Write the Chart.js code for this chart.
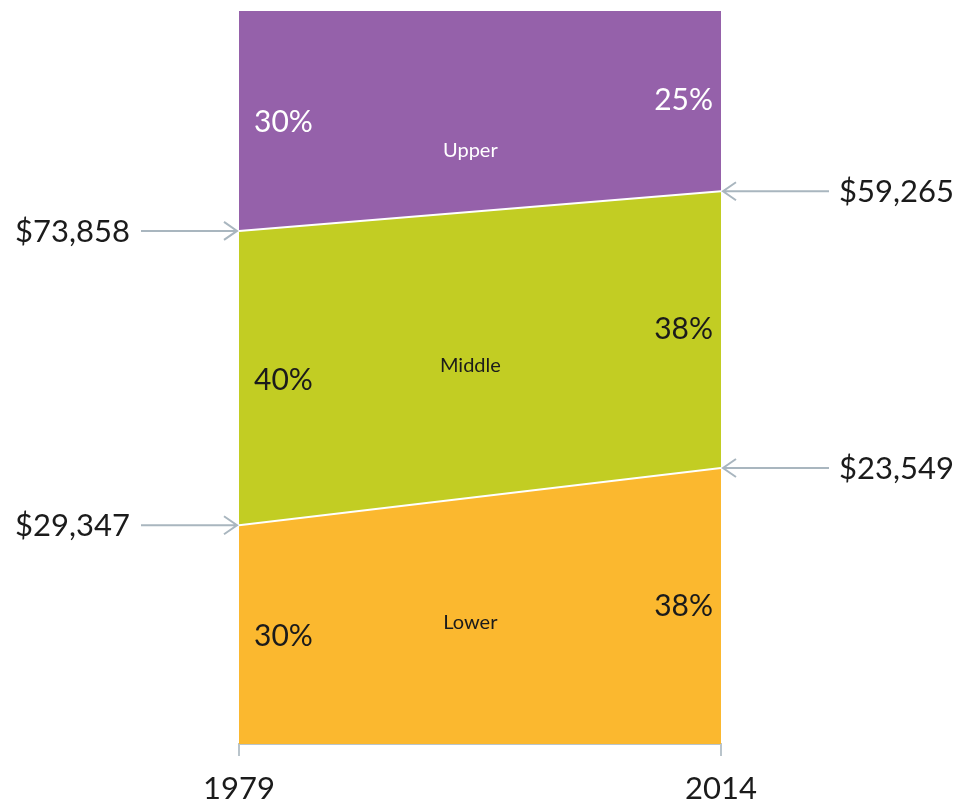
<!DOCTYPE html>
<html>
<head>
<meta charset="utf-8">
<script src="https://cdn.jsdelivr.net/npm/chart.js@4"></script>
<style>
  html, body { margin: 0; padding: 0; background: #fff; }
  #wrap { width: 966px; height: 806px; }
</style>
</head>
<body>
<div id="wrap"><canvas id="mycanvas"></canvas></div>
<script>
const years = [1979, 2014];
const lowerShare = [29.8, 37.6];
const middleShare = [40.1, 37.7];
const upperShare = [30.1, 24.7];
const seriesNames = ['Lower', 'Middle', 'Upper'];
const shareLabels = [['30%', '38%'], ['40%', '38%'], ['30%', '25%']];
const lowerBound = ['$29,347', '$23,549'];
const upperBound = ['$73,858', '$59,265'];

const FONT = 'Lato, "Open Sans", sans-serif';
const TEXT = '#1b1b1b';
const ARROW = '#a9b6bf';

// labels, percentages and arrows placed via the chart scales
const annotate = {
    id: 'annotate',
    afterDatasetsDraw(chart) {
        const ctx = chart.ctx;
        const x = chart.scales.x;
        const y = chart.scales.y;
        const shares = [lowerShare, middleShare, upperShare];

        ctx.save();
        ctx.textBaseline = 'middle';

        // percentages at each end of every band
        for (let s = 0; s < 3; s++) {
            for (let i = 0; i < 2; i++) {
                let base = 0;
                for (let k = 0; k < s; k++) base += shares[k][i];
                const mid = y.getPixelForValue(base + shares[s][i] / 2);
                ctx.font = '30px ' + FONT;
                ctx.fillStyle = s === 2 ? '#ffffff' : TEXT;
                if (i === 0) {
                    ctx.textAlign = 'left';
                    ctx.fillText(shareLabels[s][i], x.getPixelForValue(years[0]) + 15, mid + 2);
                } else {
                    ctx.textAlign = 'right';
                    ctx.fillText(shareLabels[s][i], x.getPixelForValue(years[1]) - 8, mid);
                }
            }
        }

        // band names near the middle
        const frac = [0.51, 0.54, 0.70];
        const cx = x.getPixelForValue(1979 + (2014 - 1979) * 0.48);
        for (let s = 0; s < 3; s++) {
            let lo = 0;
            for (let k = 0; k < s; k++) lo += (shares[k][0] + shares[k][1]) / 2;
            const hi = lo + (shares[s][0] + shares[s][1]) / 2;
            const pLo = y.getPixelForValue(lo);
            const pHi = y.getPixelForValue(hi);
            ctx.font = '20px ' + FONT;
            ctx.textAlign = 'center';
            ctx.fillStyle = s === 2 ? '#ffffff' : TEXT;
            ctx.fillText(seriesNames[s], cx, pHi + (pLo - pHi) * frac[s]);
        }

        // dollar boundaries with arrows
        const drawArrow = (x1, x2, yy) => {
            const dir = x2 > x1 ? 1 : -1;
            ctx.strokeStyle = ARROW;
            ctx.lineWidth = 2;
            ctx.beginPath();
            ctx.moveTo(x1, yy);
            ctx.lineTo(x2, yy);
            ctx.moveTo(x2 - dir * 13, yy - 9);
            ctx.lineTo(x2, yy);
            ctx.lineTo(x2 - dir * 13, yy + 9);
            ctx.stroke();
        };
        const left = x.getPixelForValue(years[0]);
        const right = x.getPixelForValue(years[1]);
        ctx.font = '31px ' + FONT;
        ctx.fillStyle = TEXT;
        const bounds = [lowerBound, upperBound];
        const cum = [[lowerShare[0], lowerShare[1]],
                     [lowerShare[0] + middleShare[0], lowerShare[1] + middleShare[1]]];
        for (let b = 0; b < 2; b++) {
            const yl = y.getPixelForValue(cum[b][0]);
            const yr = y.getPixelForValue(cum[b][1]);
            drawArrow(left - 98, left - 2, yl);
            ctx.textAlign = 'right';
            ctx.fillText(bounds[b][0], left - 109, yl + 1);
            drawArrow(right + 108, right + 2, yr);
            ctx.textAlign = 'left';
            ctx.fillText(bounds[b][1], right + 118, yr + 1);
        }
        ctx.restore();
    }
};

const makeSet = (label, values, color, fill) => ({
    label: label,
    data: years.map((yr, i) => ({ x: yr, y: values[i] })),
    backgroundColor: color,
    borderColor: '#ffffff',
    borderWidth: 2,
    pointRadius: 0,
    tension: 0,
    fill: fill
});

new Chart(document.getElementById('mycanvas'), {
    type: 'line',
    data: {
        datasets: [
            makeSet('Lower', lowerShare, '#fbb82f', 'origin'),
            makeSet('Middle', middleShare, '#c2cd23', '-1'),
            makeSet('Upper', upperShare, '#9561aa', '-1')
        ]
    },
    options: {
        responsive: true,
        maintainAspectRatio: false,
        animation: false,
        layout: { padding: { left: 239, right: 245, top: 10, bottom: 0 } },
        plugins: {
            legend: { display: false },
            tooltip: { enabled: false }
        },
        scales: {
            x: {
                type: 'linear',
                min: 1979,
                max: 2014,
                afterBuildTicks: (axis) => {
                    axis.ticks = years.map(v => ({ value: v }));
                },
                afterFit: (axis) => { axis.height = 62; },
                ticks: {
                    autoSkip: false,
                    maxRotation: 0,
                    padding: 14,
                    color: TEXT,
                    font: { family: FONT, size: 31 },
                    callback: (v) => String(v)
                },
                grid: {
                    drawOnChartArea: false,
                    drawTicks: true,
                    tickLength: 12,
                    color: '#b9c4cb',
                    lineWidth: 2
                },
                border: { display: true, color: '#b9c4cb', width: 2 }
            },
            y: {
                display: false,
                stacked: true,
                min: 0,
                max: 100
            }
        }
    },
    plugins: [annotate]
});
</script>
</body>
</html>
